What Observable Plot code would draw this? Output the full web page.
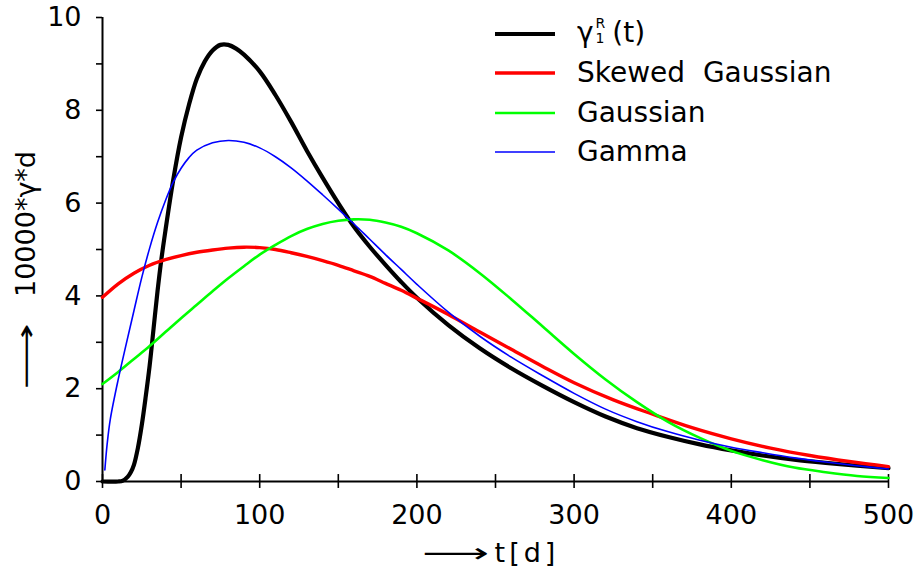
<!DOCTYPE html>
<html><head><meta charset="utf-8">
<script src="https://cdn.jsdelivr.net/npm/d3@7"></script>
<script src="https://cdn.jsdelivr.net/npm/@observablehq/plot@0.6"></script>
<style>
body{margin:0;background:#fff;}
#wrap{position:relative;width:915px;height:568px;font-family:"DejaVu Sans",sans-serif;}
#legend{position:absolute;left:495px;top:14px;}
.row{display:flex;align-items:center;height:39.5px;}
.row svg{width:60px;height:10px;margin-right:22px;flex:none;}
.lab{font-size:28px;white-space:pre;color:#000;line-height:1;}
.ss{display:inline-flex;flex-direction:column;font-size:14px;line-height:15px;vertical-align:middle;margin:0 7px 0 2px;position:relative;top:-3px;}
.axlab{position:absolute;font-size:27px;white-space:pre;color:#000;line-height:1;display:flex;align-items:center;}
.arr{display:inline-block;overflow:visible;}
.arr span{display:inline-block;transform-origin:0 50%;}
</style></head><body><div id="wrap"></div>
<script>
// --- data ---
const tBlack = [0,10,13,16,18,20,22.5,25,27.5,30,32.5,35,37.5,40,45,50,55,60,65,70,75,80,85,90,100,110,120,130,140,150,160,170,180,190,200,220,240,260,280,300,320,340,360,380,400,420,440,460,480,500];
const vBlack = [0,0,0.02,0.1,0.2,0.36,0.72,1.22,1.83,2.5,3.3,4.1,4.8,5.4,6.5,7.42,8.12,8.68,9.05,9.29,9.41,9.41,9.33,9.2,8.84,8.33,7.75,7.13,6.55,6.0,5.49,5.06,4.67,4.3,3.96,3.37,2.87,2.44,2.06,1.71,1.4,1.15,0.96,0.8,0.67,0.56,0.47,0.4,0.34,0.29];

const tRed = [0,10,20,30,40,50,60,70,80,90,100,110,120,130,140,150,160,170,180,190,200,220,240,260,280,300,325,350,375,400,425,450,475,500];
const vRed = [3.97,4.26,4.49,4.66,4.78,4.87,4.94,4.99,5.03,5.05,5.04,5.0,4.93,4.85,4.76,4.66,4.54,4.42,4.27,4.12,3.95,3.6,3.22,2.85,2.48,2.13,1.76,1.45,1.16,0.92,0.72,0.56,0.43,0.32];

const tGreen = [0,10,20,30,40,50,60,70,80,90,100,110,120,130,140,150,160,170,180,190,200,220,240,260,280,300,320,340,360,380,400,420,440,460,480,500];
const vGreen = [2.1,2.36,2.64,2.92,3.22,3.52,3.81,4.1,4.38,4.64,4.89,5.1,5.29,5.44,5.55,5.62,5.65,5.64,5.58,5.49,5.35,4.98,4.49,3.93,3.34,2.75,2.2,1.71,1.28,0.94,0.66,0.46,0.3,0.2,0.12,0.075];

const tBlue = [1.5,3,5,10,15,20,25,30,35,40,45,50,55,60,70,80,90,100,110,120,130,140,150,160,170,180,190,200,220,240,260,280,300,320,340,360,380,400,420,440,460,480,500];
const vBlue = [0.25,0.82,1.35,2.2,2.95,3.68,4.4,5.03,5.58,6.05,6.45,6.75,6.98,7.14,7.3,7.35,7.31,7.19,7.0,6.76,6.48,6.18,5.87,5.55,5.22,4.89,4.57,4.25,3.65,3.13,2.68,2.28,1.9,1.56,1.29,1.07,0.89,0.74,0.62,0.51,0.42,0.34,0.27];

const xMajor = [0,100,200,300,400,500];
const xAllTicks = [0,50,100,150,200,250,300,350,400,450,500];
const yMajor = [0,2,4,6,8,10];
const yMinor = [1,3,5,7,9];

const seriesNames = ["Skewed  Gaussian","Gaussian","Gamma"];
const seriesColors = ["#000000","#ff0000","#00ff00","#0000ff"];
const seriesWidths = [4.2,3.4,2.6,1.6];
const yLabelText = "10000*\u03B3*d";
const xLabelText = "t[d]";
const arrowGlyph = "\u27F6";

const FONT = "DejaVu Sans, sans-serif";
const toRows = (ts, vs) => ts.map((t, i) => ({t, v: vs[i]}));
const rows = [toRows(tBlack, vBlack), toRows(tRed, vRed), toRows(tGreen, vGreen), toRows(tBlue, vBlue)];

const chart = Plot.plot({
  width: 915, height: 568,
  marginLeft: 102, marginRight: 27, marginTop: 17, marginBottom: 87,
  x: {domain: [0, 500]},
  y: {domain: [0, 10]},
  style: {fontFamily: FONT, fontSize: "27px", color: "#000", background: "#fff", overflow: "visible"},
  marks: [
    Plot.axisY({ticks: yMajor, tickSize: 6, tickPadding: 15, strokeWidth: 1.6, fontSize: 27, label: null}),
    Plot.axisY({ticks: yMinor, tickSize: 6, tickFormat: () => "", strokeWidth: 1.6, label: null}),
    Plot.axisX({ticks: xMajor, tickSize: 0, tickPadding: 23, fontSize: 27, label: null}),
    Plot.ruleX(xAllTicks, {x: d => d, y1: -0.15, y2: 0.15, strokeWidth: 1.6}),
    Plot.ruleX([0], {strokeWidth: 2}),
    Plot.ruleY([0], {strokeWidth: 2}),
    ...rows.map((r, i) => Plot.line(r, {x: "t", y: "v", stroke: seriesColors[i], strokeWidth: seriesWidths[i], curve: "catmull-rom"}))
  ]
});
const wrap = document.getElementById("wrap");
wrap.appendChild(chart);

// legend
const legend = document.createElement("div");
legend.id = "legend";
const swatch = i => `<svg viewBox="0 0 60 10"><line x1="0" x2="60" y1="5" y2="5" stroke="${seriesColors[i]}" stroke-width="${seriesWidths[i]}"/></svg>`;
let html = `<div class="row">${swatch(0)}<span class="lab">\u03B3<span class="ss"><span>R</span><span>1</span></span>(t)</span></div>`;
seriesNames.forEach((n, k) => { html += `<div class="row">${swatch(k + 1)}<span class="lab">${n}</span></div>`; });
legend.innerHTML = html;
wrap.appendChild(legend);

// axis labels with long arrows
function makeLabel(text, arrowLen, gap, spacing) {
  const d = document.createElement("div");
  d.className = "axlab";
  d.innerHTML = `<span class="arr"><span>${arrowGlyph}</span></span><span style="margin-left:${gap}px;letter-spacing:${spacing}px">${text}</span>`;
  wrap.appendChild(d);
  const inner = d.querySelector(".arr span");
  const w = inner.getBoundingClientRect().width;
  d.querySelector(".arr").style.width = arrowLen + "px";
  inner.style.transform = `scaleX(${arrowLen / w})`;
  return d;
}
const xl = makeLabel(xLabelText, 67, 5, 4);
xl.style.left = "491px"; xl.style.top = "552px";
xl.style.transform = "translate(-50%,-50%)";
const yl = makeLabel(yLabelText, 66, 26, 0);
yl.style.left = "25px"; yl.style.top = "270px";
yl.style.transform = "translate(-50%,-50%) rotate(-90deg)";
</script>
</body></html>
